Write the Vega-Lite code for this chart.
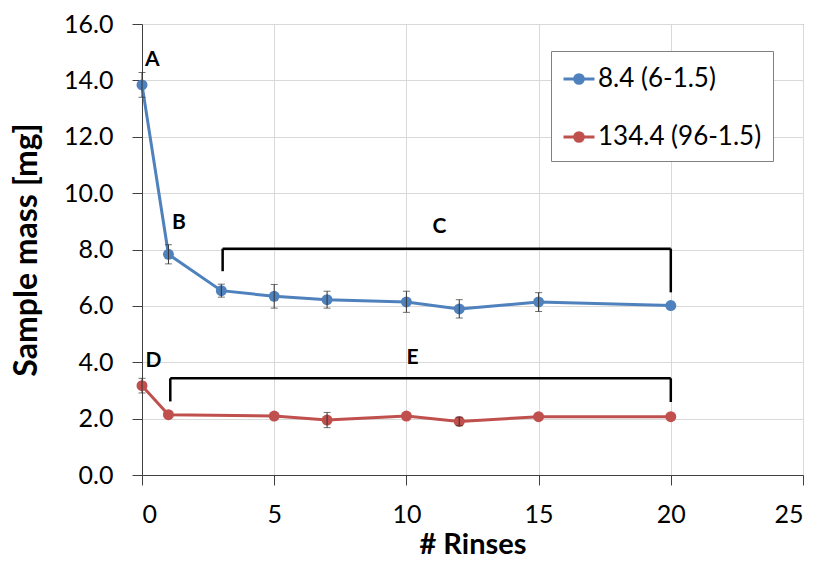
{
  "$schema": "https://vega.github.io/schema/vega-lite/v6.json",
  "width": 661,
  "height": 451,
  "autosize": {"type": "none"},
  "padding": {"left": 142, "top": 24, "right": 15, "bottom": 88},
  "background": "white",
  "config": {
    "font": "Lato",
    "view": {"stroke": "#868686", "strokeWidth": 1},
    "axis": {
      "gridColor": "#d9d9d9",
      "gridWidth": 1,
      "domainColor": "#404040",
      "tickColor": "#404040",
      "tickSize": 10,
      "labelFont": "Lato",
      "labelFontSize": 25,
      "labelColor": "#000000",
      "titleFont": "Lato",
      "titleFontWeight": "bold",
      "titleColor": "#000000"
    }
  },
  "datasets": {
    "series": [
      {"series": "8.4 (6-1.5)", "x": 0, "y": 13.84},
      {"series": "8.4 (6-1.5)", "x": 1, "y": 7.83},
      {"series": "8.4 (6-1.5)", "x": 3, "y": 6.54},
      {"series": "8.4 (6-1.5)", "x": 5, "y": 6.34},
      {"series": "8.4 (6-1.5)", "x": 7, "y": 6.22},
      {"series": "8.4 (6-1.5)", "x": 10, "y": 6.14},
      {"series": "8.4 (6-1.5)", "x": 12, "y": 5.89},
      {"series": "8.4 (6-1.5)", "x": 15, "y": 6.14},
      {"series": "8.4 (6-1.5)", "x": 20, "y": 6.01},
      {"series": "134.4 (96-1.5)", "x": 0, "y": 3.17},
      {"series": "134.4 (96-1.5)", "x": 1, "y": 2.14},
      {"series": "134.4 (96-1.5)", "x": 5, "y": 2.09},
      {"series": "134.4 (96-1.5)", "x": 7, "y": 1.95},
      {"series": "134.4 (96-1.5)", "x": 10, "y": 2.09},
      {"series": "134.4 (96-1.5)", "x": 12, "y": 1.9},
      {"series": "134.4 (96-1.5)", "x": 15, "y": 2.07},
      {"series": "134.4 (96-1.5)", "x": 20, "y": 2.07}
    ],
    "errors": [
      {"x": 0, "lo": 13.4, "hi": 14.28},
      {"x": 1, "lo": 7.49, "hi": 8.17},
      {"x": 3, "lo": 6.31, "hi": 6.77},
      {"x": 5, "lo": 5.92, "hi": 6.76},
      {"x": 7, "lo": 5.92, "hi": 6.52},
      {"x": 10, "lo": 5.77, "hi": 6.52},
      {"x": 12, "lo": 5.57, "hi": 6.22},
      {"x": 15, "lo": 5.8, "hi": 6.47},
      {"x": 0, "lo": 2.91, "hi": 3.43},
      {"x": 7, "lo": 1.68, "hi": 2.22},
      {"x": 12, "lo": 1.75, "hi": 2.05}
    ],
    "brackets": [
      {"x": 3.05, "y": 8.03, "x2": 20, "y2": 8.03},
      {"x": 3.05, "y": 8.03, "x2": 3.05, "y2": 7.23},
      {"x": 20, "y": 8.03, "x2": 20, "y2": 6.48},
      {"x": 1.07, "y": 3.43, "x2": 20, "y2": 3.43},
      {"x": 1.07, "y": 3.43, "x2": 1.07, "y2": 2.61},
      {"x": 20, "y": 3.43, "x2": 20, "y2": 2.59}
    ],
    "letters": [
      {"t": "A", "x": 0.39, "y": 14.72},
      {"t": "B", "x": 1.4, "y": 8.95},
      {"t": "C", "x": 11.25, "y": 8.79},
      {"t": "D", "x": 0.43, "y": 4.03},
      {"t": "E", "x": 10.23, "y": 4.15}
    ]
  },
  "encoding": {
    "x": {
      "type": "quantitative",
      "scale": {"domain": [0, 25], "nice": false, "zero": false},
      "axis": {
        "title": "# Rinses",
        "titleFontSize": 29,
        "values": [0, 5, 10, 15, 20, 25],
        "labelPadding": 17,
        "titlePadding": 3
      }
    },
    "y": {
      "type": "quantitative",
      "scale": {"domain": [0, 16], "nice": false},
      "axis": {
        "title": "Sample mass [mg]",
        "titleFontSize": 32,
        "values": [0, 2, 4, 6, 8, 10, 12, 14, 16],
        "format": ".1f",
        "labelPadding": 19,
        "titlePadding": 20
      }
    }
  },
  "layer": [
    {
      "data": {"name": "brackets"},
      "mark": {"type": "rule", "color": "#000000", "strokeWidth": 2.5},
      "encoding": {
        "x": {"field": "x", "type": "quantitative"},
        "y": {"field": "y", "type": "quantitative"},
        "x2": {"field": "x2"},
        "y2": {"field": "y2"}
      }
    },
    {
      "data": {"name": "series"},
      "mark": {"type": "line", "strokeWidth": 3},
      "encoding": {
        "x": {"field": "x", "type": "quantitative"},
        "y": {"field": "y", "type": "quantitative"},
        "color": {
          "field": "series",
          "type": "nominal",
          "scale": {"domain": ["8.4 (6-1.5)", "134.4 (96-1.5)"], "range": ["#4f81bd", "#c0504d"]},
          "legend": {
            "title": null,
            "orient": "none",
            "legendX": 409,
            "legendY": 27,
            "direction": "vertical",
            "symbolType": "M-1,0L1,0M-0.28,0A0.28,0.28,0,1,0,0.28,0A0.28,0.28,0,1,0,-0.28,0Z",
            "symbolSize": 961,
            "symbolStrokeWidth": 3,
            "labelFont": "Lato",
            "labelFontSize": 26,
            "labelLimit": 400,
            "labelColor": "#000000",
            "labelOffset": 2,
            "padding": 11,
            "rowPadding": 28,
            "strokeColor": "#808080",
            "fillColor": "white",
            "encode": {
              "symbols": {"update": {"fill": {"scale": "color", "field": "value"}}}
            }
          }
        }
      }
    },
    {
      "data": {"name": "series"},
      "mark": {"type": "point", "filled": true, "size": 120, "opacity": 1},
      "encoding": {
        "x": {"field": "x", "type": "quantitative"},
        "y": {"field": "y", "type": "quantitative"},
        "fill": {
          "field": "series",
          "type": "nominal",
          "scale": {"domain": ["8.4 (6-1.5)", "134.4 (96-1.5)"], "range": ["#4f81bd", "#c0504d"]},
          "legend": null
        }
      }
    },
    {
      "data": {"name": "errors"},
      "mark": {"type": "errorbar", "ticks": {"size": 7, "color": "#333333"}, "color": "#333333", "thickness": 1},
      "encoding": {
        "x": {"field": "x", "type": "quantitative"},
        "y": {"field": "lo", "type": "quantitative"},
        "y2": {"field": "hi"}
      }
    },
    {
      "data": {"name": "letters"},
      "mark": {"type": "text", "font": "Lato", "fontWeight": "bold", "fontSize": 21, "color": "#000000", "align": "center", "baseline": "middle"},
      "encoding": {
        "x": {"field": "x", "type": "quantitative"},
        "y": {"field": "y", "type": "quantitative"},
        "text": {"field": "t"}
      }
    }
  ]
}
